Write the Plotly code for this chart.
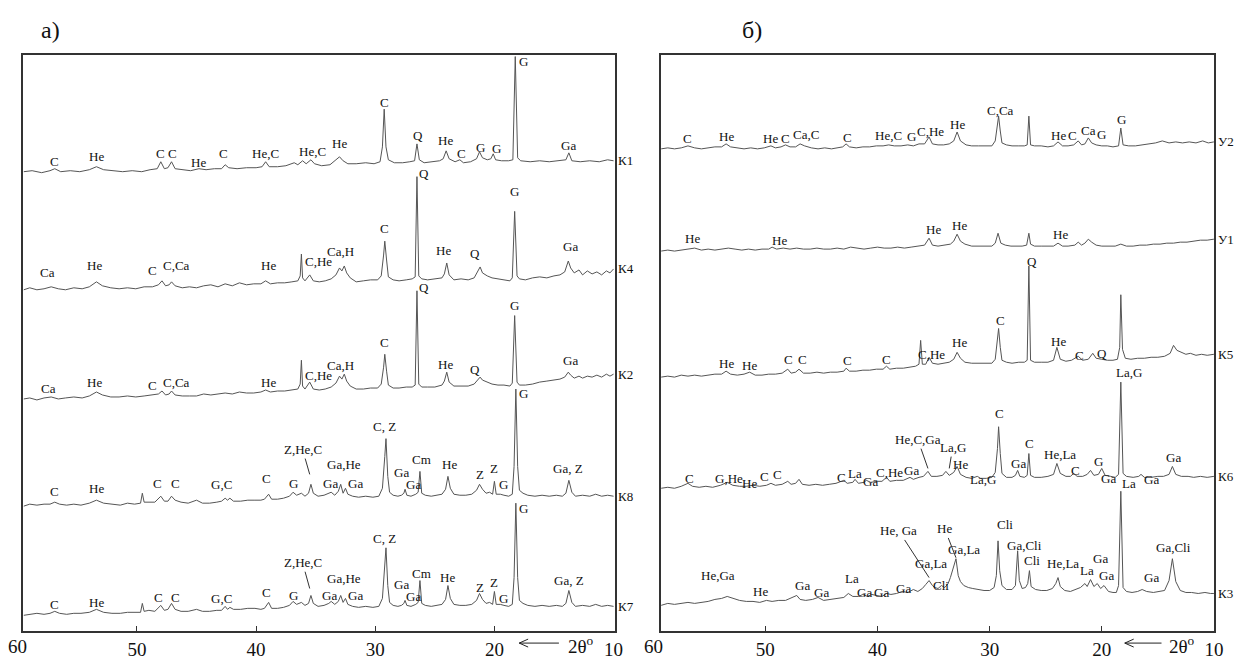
import plotly.graph_objects as go

FONT = "Liberation Serif"
W, H = 1240, 660

# ---------------- data: (2theta, intensity) ----------------
k1 = [(59.5,0),(58.8,1),(58.0,-1),(57.3,1),(56.9,3),(56.4,0),(55.6,1),(54.8,0),(54.0,2),(53.4,5),(52.8,2),(52.0,1),(51.2,0),(50.4,1),(49.6,0),(48.9,2),(48.3,3),(48.0,10),(47.7,3),(47.4,4),(47.1,10),(46.8,3),(46.2,2),(45.5,1),(44.8,3),(44.2,2),(43.5,3),(42.9,3),(42.6,7),(42.3,4),(41.6,3),(40.8,4),(40.0,4),(39.5,5),(39.2,10),(38.9,5),(38.2,5),(37.5,6),(36.8,9),(36.5,7),(36.1,11),(35.8,8),(35.4,12),(35.1,8),(34.5,6),(33.8,7),(33.3,12),(33.0,15),(32.7,11),(32.3,8),(31.6,8),(30.8,9),(30.1,8),(29.6,10),(29.4,25),(29.25,63),(29.1,25),(28.9,12),(28.4,9),(27.7,9),(27.1,10),(26.7,11),(26.5,28),(26.3,12),(25.9,9),(25.3,10),(24.6,11),(24.3,13),(24.05,21),(23.8,13),(23.3,10),(22.9,12),(22.6,9),(22.0,10),(21.5,13),(21.25,20),(21.0,14),(20.6,12),(20.3,13),(20.1,18),(19.9,12),(19.4,11),(18.8,11),(18.45,12),(18.25,116),(18.05,14),(17.8,11),(17.0,10),(16.2,11),(15.4,10),(14.6,11),(14.0,12),(13.75,19),(13.5,11),(12.8,10),(12.0,11),(11.2,10),(10.5,12),(10.0,11)]
k4 = [(59.5,0),(59.0,2),(58.4,0),(57.8,1),(57.2,3),(56.6,1),(56.0,0),(55.3,2),(54.6,1),(54.0,3),(53.4,8),(52.9,4),(52.2,2),(51.5,1),(50.8,2),(50.1,1),(49.4,3),(48.7,3),(48.2,5),(47.9,9),(47.6,4),(47.3,5),(47.1,8),(46.8,4),(46.2,2),(45.6,3),(45.0,2),(44.4,4),(43.8,5),(43.2,3),(42.6,6),(42.0,4),(41.4,7),(40.8,5),(40.2,6),(39.6,6),(39.2,9),(38.8,6),(38.2,7),(37.6,7),(37.0,8),(36.5,9),(36.3,14),(36.2,36),(36.1,12),(35.9,9),(35.5,15),(35.2,9),(34.7,8),(34.2,9),(33.7,11),(33.3,15),(33.0,22),(32.8,19),(32.6,24),(32.4,17),(32.1,12),(31.6,8),(31.0,9),(30.4,10),(29.8,10),(29.5,14),(29.3,35),(29.2,49),(29.05,30),(28.9,13),(28.5,10),(28.0,9),(27.4,10),(26.9,11),(26.65,13),(26.5,114),(26.35,14),(26.1,11),(25.6,10),(25.0,11),(24.4,12),(24.2,16),(24.0,27),(23.8,15),(23.4,10),(22.8,11),(22.2,10),(21.7,12),(21.4,18),(21.2,23),(21.0,17),(20.6,14),(20.2,12),(19.7,11),(19.2,10),(18.7,9),(18.5,12),(18.3,79),(18.1,14),(17.9,11),(17.4,10),(16.8,12),(16.2,13),(15.6,12),(15.0,14),(14.5,15),(14.1,18),(13.8,29),(13.6,22),(13.3,17),(12.9,20),(12.6,15),(12.2,19),(11.8,16),(11.4,18),(11.0,15),(10.6,19),(10.3,17),(10.0,21)]
k2 = [(59.5,0),(59.0,1),(58.4,-1),(57.8,1),(57.2,2),(56.6,0),(56.0,1),(55.3,2),(54.6,1),(54.0,3),(53.4,7),(52.9,4),(52.2,2),(51.5,2),(50.8,3),(50.1,2),(49.4,3),(48.7,4),(48.2,5),(47.9,8),(47.6,4),(47.3,5),(47.1,8),(46.8,4),(46.2,3),(45.6,3),(45.0,3),(44.4,5),(43.8,4),(43.2,5),(42.6,6),(42.0,5),(41.4,7),(40.8,6),(40.2,6),(39.6,7),(39.2,9),(38.8,7),(38.2,8),(37.6,8),(37.0,9),(36.5,10),(36.3,15),(36.2,39),(36.1,13),(35.9,10),(35.5,17),(35.2,10),(34.7,9),(34.2,10),(33.7,12),(33.3,16),(33.0,23),(32.8,20),(32.6,25),(32.4,18),(32.1,13),(31.6,10),(31.0,10),(30.4,11),(29.8,11),(29.5,15),(29.3,32),(29.2,45),(29.05,28),(28.9,14),(28.5,11),(28.0,11),(27.4,12),(26.9,12),(26.65,14),(26.5,109),(26.35,15),(26.1,12),(25.6,12),(25.0,12),(24.4,14),(24.2,18),(24.0,27),(23.8,17),(23.4,13),(22.8,13),(22.2,13),(21.7,15),(21.4,19),(21.2,22),(21.0,19),(20.6,17),(20.2,15),(19.7,14),(19.2,14),(18.7,13),(18.5,16),(18.3,84),(18.1,17),(17.9,14),(17.4,14),(16.8,15),(16.2,17),(15.6,18),(15.0,19),(14.5,20),(14.1,22),(13.8,27),(13.6,24),(13.3,21),(12.9,23),(12.6,21),(12.2,23),(11.8,22),(11.4,24),(11.0,22),(10.6,25),(10.3,23),(10.0,25)]
k8 = [(59.5,0),(59.0,2),(58.4,1),(57.8,2),(57.3,2),(56.9,4),(56.5,2),(55.9,1),(55.3,2),(54.7,1),(54.0,3),(53.4,6),(52.8,3),(52.1,2),(51.4,1),(50.8,3),(50.2,2),(49.7,3),(49.55,13),(49.4,4),(49.0,4),(48.5,4),(48.0,10),(47.7,5),(47.4,5),(47.1,10),(46.8,6),(46.3,4),(45.7,3),(45.0,6),(44.5,3),(43.9,3),(43.3,4),(42.9,5),(42.6,8),(42.4,6),(42.2,8),(41.9,5),(41.3,5),(40.7,6),(40.1,6),(39.6,6),(39.3,7),(38.95,12),(38.7,7),(38.2,7),(37.7,8),(37.2,10),(36.9,14),(36.6,11),(36.2,13),(35.9,10),(35.6,13),(35.4,22),(35.2,13),(34.8,10),(34.3,11),(33.9,13),(33.7,14),(33.4,11),(33.1,15),(32.9,22),(32.7,13),(32.5,18),(32.3,12),(31.9,10),(31.4,9),(30.8,10),(30.2,9),(29.7,10),(29.4,18),(29.2,50),(29.1,68),(28.95,30),(28.8,14),(28.5,11),(28.1,10),(27.8,11),(27.6,13),(27.5,17),(27.35,11),(27.0,10),(26.6,12),(26.4,14),(26.25,35),(26.1,13),(25.8,11),(25.3,10),(24.8,11),(24.4,12),(24.1,17),(23.9,30),(23.7,18),(23.4,12),(22.9,11),(22.4,11),(21.9,12),(21.5,16),(21.25,22),(21.0,17),(20.7,13),(20.4,14),(20.15,12),(20.0,25),(19.85,12),(19.5,12),(19.2,11),(18.8,10),(18.5,12),(18.35,40),(18.2,118),(18.05,40),(17.9,16),(17.6,13),(17.2,11),(16.6,10),(16.0,11),(15.4,10),(14.8,11),(14.3,10),(14.0,13),(13.75,26),(13.5,14),(13.2,10),(12.6,11),(12.0,10),(11.5,12),(11.0,10),(10.5,11),(10.0,10)]
k7 = [(59.5,0),(59.0,1),(58.4,2),(57.8,1),(57.3,2),(56.9,4),(56.5,2),(55.9,1),(55.3,2),(54.7,2),(54.0,3),(53.4,6),(52.8,3),(52.1,2),(51.4,2),(50.8,3),(50.2,3),(49.7,3),(49.55,12),(49.4,4),(49.0,5),(48.5,4),(48.0,10),(47.7,5),(47.4,6),(47.1,12),(46.8,6),(46.3,4),(45.7,4),(45.0,6),(44.5,4),(43.9,4),(43.3,5),(42.9,5),(42.6,9),(42.4,6),(42.2,8),(41.9,6),(41.3,6),(40.7,7),(40.1,7),(39.6,6),(39.3,7),(38.95,13),(38.7,7),(38.2,7),(37.7,8),(37.2,10),(36.9,14),(36.6,11),(36.2,13),(35.9,10),(35.6,12),(35.4,20),(35.2,12),(34.8,9),(34.3,10),(33.9,12),(33.7,14),(33.4,11),(33.1,14),(32.9,20),(32.7,13),(32.5,17),(32.3,11),(31.9,9),(31.4,8),(30.8,9),(30.2,8),(29.7,9),(29.4,17),(29.2,48),(29.1,68),(28.95,30),(28.8,13),(28.5,10),(28.1,9),(27.8,10),(27.6,12),(27.5,15),(27.35,10),(27.0,9),(26.6,11),(26.4,13),(26.25,35),(26.1,12),(25.8,10),(25.3,9),(24.8,10),(24.4,11),(24.1,16),(23.9,30),(23.7,17),(23.4,11),(22.9,10),(22.4,10),(21.9,11),(21.5,15),(21.25,22),(21.0,16),(20.7,12),(20.4,13),(20.15,11),(20.0,24),(19.85,11),(19.5,11),(19.2,10),(18.8,9),(18.5,11),(18.35,38),(18.2,113),(18.05,38),(17.9,15),(17.6,12),(17.2,10),(16.6,9),(16.0,10),(15.4,9),(14.8,10),(14.3,9),(14.0,12),(13.75,25),(13.5,13),(13.2,9),(12.6,10),(12.0,9),(11.5,11),(11.0,9),(10.5,10),(10.0,9)]

u2 = [(59.3,0),(58.7,1),(58.1,0),(57.5,1),(56.9,3),(56.3,1),(55.7,0),(55.1,1),(54.5,2),(53.9,2),(53.5,5),(53.1,2),(52.5,1),(51.9,0),(51.3,1),(50.7,0),(50.1,1),(49.5,3),(49.1,1),(48.6,2),(48.2,4),(47.8,2),(47.3,2),(46.9,5),(46.5,3),(45.9,1),(45.3,0),(44.7,1),(44.1,0),(43.5,1),(43.1,2),(42.8,5),(42.5,2),(41.9,1),(41.3,2),(40.7,2),(40.1,3),(39.5,3),(39.0,4),(38.5,3),(37.9,3),(37.3,4),(36.8,3),(36.3,5),(35.8,5),(35.4,12),(35.1,5),(34.6,4),(34.1,4),(33.6,5),(33.2,8),(32.9,17),(32.6,8),(32.1,4),(31.6,3),(31.0,3),(30.4,3),(29.8,3),(29.5,8),(29.3,25),(29.2,33),(29.05,18),(28.9,6),(28.5,4),(28.0,3),(27.4,3),(26.9,3),(26.65,4),(26.5,33),(26.35,4),(26.0,3),(25.4,3),(24.8,2),(24.3,3),(23.9,7),(23.5,3),(23.0,3),(22.5,4),(22.1,8),(21.8,4),(21.5,5),(21.2,11),(20.9,6),(20.5,4),(20.0,3),(19.5,3),(19.0,2),(18.5,3),(18.3,21),(18.1,4),(17.6,3),(17.0,3),(16.4,4),(15.8,5),(15.2,6),(14.6,8),(14.0,6),(13.4,7),(12.8,6),(12.2,7),(11.6,6),(11.0,8),(10.5,6),(10.0,7)]
u1 = [(59.3,0),(58.7,1),(58.1,0),(57.5,1),(56.9,2),(56.3,3),(55.7,1),(55.1,2),(54.5,1),(53.9,2),(53.3,3),(52.7,2),(52.1,1),(51.5,2),(50.9,1),(50.3,2),(49.7,2),(49.4,4),(49.0,2),(48.4,3),(47.8,2),(47.2,3),(46.6,2),(46.0,2),(45.4,3),(44.8,2),(44.2,2),(43.6,3),(43.0,2),(42.4,4),(41.8,3),(41.2,2),(40.6,3),(40.0,4),(39.4,3),(38.8,3),(38.2,4),(37.6,3),(37.0,4),(36.4,5),(35.8,6),(35.4,13),(35.1,6),(34.6,5),(34.0,6),(33.5,7),(33.2,10),(32.9,17),(32.6,10),(32.2,7),(31.6,5),(31.0,5),(30.4,5),(29.8,5),(29.5,8),(29.25,18),(29.0,8),(28.6,6),(28.1,5),(27.6,5),(27.1,5),(26.7,6),(26.5,18),(26.35,7),(26.0,5),(25.4,5),(24.8,5),(24.3,5),(23.9,8),(23.5,5),(23.0,5),(22.4,6),(22.1,9),(21.8,6),(21.5,8),(21.2,12),(20.9,9),(20.5,6),(20.0,5),(19.4,5),(18.8,5),(18.3,7),(17.8,5),(17.2,5),(16.6,6),(16.0,6),(15.4,7),(14.8,7),(14.2,8),(13.6,8),(13.0,9),(12.4,9),(11.8,10),(11.2,11),(10.6,11),(10.0,12)]
k5 = [(59.3,0),(58.7,1),(58.1,0),(57.5,2),(56.9,1),(56.3,2),(55.7,1),(55.1,2),(54.5,3),(53.9,3),(53.5,6),(53.1,3),(52.5,2),(51.9,3),(51.4,5),(50.9,2),(50.3,2),(49.7,3),(49.1,3),(48.5,4),(48.0,8),(47.7,4),(47.3,5),(47.0,8),(46.6,4),(46.0,4),(45.4,5),(44.8,4),(44.2,5),(43.6,5),(43.0,6),(42.8,9),(42.5,6),(41.9,6),(41.3,7),(40.7,7),(40.1,8),(39.5,8),(39.2,11),(38.9,8),(38.3,9),(37.7,9),(37.1,10),(36.6,11),(36.3,13),(36.15,37),(36.0,13),(35.7,13),(35.4,20),(35.1,14),(34.6,13),(34.1,14),(33.6,15),(33.2,18),(32.9,25),(32.6,19),(32.2,15),(31.6,14),(31.0,14),(30.4,14),(29.8,14),(29.5,18),(29.3,38),(29.2,49),(29.05,30),(28.9,17),(28.5,15),(28.0,14),(27.4,15),(26.9,15),(26.65,17),(26.5,112),(26.35,17),(26.0,15),(25.4,15),(24.8,15),(24.3,17),(24.0,30),(23.7,18),(23.2,16),(22.7,17),(22.1,21),(21.7,17),(21.2,18),(20.8,24),(20.5,19),(20.0,18),(19.5,17),(19.0,17),(18.6,18),(18.4,30),(18.3,83),(18.15,28),(17.9,19),(17.4,18),(16.8,19),(16.2,19),(15.6,20),(15.0,20),(14.4,21),(13.9,24),(13.6,32),(13.3,27),(12.9,25),(12.5,23),(12.1,24),(11.6,22),(11.1,23),(10.6,22),(10.0,23)]
k6 = [(59.3,0),(58.7,1),(58.1,0),(57.5,2),(56.9,5),(56.5,2),(55.9,1),(55.3,2),(54.7,1),(54.0,3),(53.4,6),(52.9,3),(52.3,2),(51.7,2),(51.1,3),(50.5,2),(49.9,3),(49.5,5),(49.1,3),(48.5,4),(48.0,7),(47.7,4),(47.3,5),(47.0,9),(46.7,4),(46.1,3),(45.5,4),(44.9,3),(44.3,4),(43.7,5),(43.0,8),(42.7,5),(42.2,6),(42.0,9),(41.7,5),(41.2,6),(41.0,8),(40.6,6),(40.0,7),(39.6,7),(39.2,11),(38.9,7),(38.3,8),(37.7,8),(37.1,11),(36.8,9),(36.3,11),(35.9,12),(35.5,17),(35.2,12),(34.7,12),(34.2,13),(33.9,17),(33.6,13),(33.2,16),(32.9,22),(32.6,14),(32.1,11),(31.6,10),(31.1,12),(30.8,10),(30.3,10),(29.8,11),(29.5,16),(29.3,40),(29.2,62),(29.05,35),(28.9,15),(28.5,11),(28.0,11),(27.7,13),(27.5,18),(27.3,12),(26.9,11),(26.65,13),(26.5,35),(26.35,13),(26.0,11),(25.4,11),(24.8,12),(24.3,14),(24.0,25),(23.7,15),(23.2,12),(22.8,12),(22.5,15),(22.2,12),(21.7,12),(21.3,14),(21.0,18),(20.7,13),(20.3,14),(20.0,20),(19.7,13),(19.2,12),(18.8,11),(18.5,14),(18.3,107),(18.1,15),(17.8,12),(17.2,11),(16.7,12),(16.5,14),(16.2,11),(15.6,11),(15.0,12),(14.5,12),(14.0,14),(13.7,22),(13.4,14),(12.9,12),(12.3,12),(11.8,11),(11.2,12),(10.6,11),(10.0,12)]
k3 = [(59.3,0),(58.7,2),(58.1,1),(57.5,2),(56.9,3),(56.3,2),(55.7,3),(55.1,4),(54.5,6),(53.9,7),(53.4,9),(52.9,7),(52.3,5),(51.7,4),(51.1,4),(50.5,3),(49.9,5),(49.4,4),(48.8,5),(48.2,5),(47.8,7),(47.2,10),(46.9,6),(46.4,5),(45.8,6),(45.3,8),(44.8,5),(44.2,6),(43.6,7),(43.0,8),(42.6,12),(42.2,9),(41.7,9),(41.3,11),(40.9,9),(40.5,11),(40.1,10),(39.6,9),(39.2,12),(38.8,11),(38.3,12),(37.8,14),(37.3,13),(36.8,16),(36.4,14),(36.0,17),(35.7,21),(35.4,25),(35.1,20),(34.9,18),(34.6,17),(34.3,20),(34.0,18),(33.7,22),(33.5,28),(33.2,40),(33.0,47),(32.8,30),(32.6,24),(32.3,20),(31.9,18),(31.5,17),(31.0,16),(30.5,15),(30.0,15),(29.6,18),(29.4,30),(29.25,65),(29.1,35),(28.9,20),(28.5,16),(28.0,16),(27.7,20),(27.5,55),(27.35,25),(27.1,17),(26.8,18),(26.6,22),(26.45,35),(26.3,19),(25.9,16),(25.4,15),(24.9,15),(24.4,17),(24.1,22),(23.9,28),(23.7,19),(23.3,15),(22.8,14),(22.3,16),(21.9,18),(21.5,22),(21.3,19),(21.0,26),(20.7,19),(20.4,22),(20.1,17),(19.8,20),(19.4,14),(19.0,13),(18.7,13),(18.5,20),(18.3,115),(18.1,18),(17.8,14),(17.3,13),(16.8,14),(16.4,16),(16.0,14),(15.4,13),(14.9,14),(14.4,15),(14.0,25),(13.7,47),(13.4,24),(13.0,15),(12.5,13),(12.0,13),(11.4,12),(10.8,13),(10.3,12),(10.0,12)]

# phase labels: (text, 2theta, height above the trace's zero level)
k1_labels = [("C",56.9,10),("He",53.4,15),("C",48.0,18),("C",47.0,18),("He",44.8,9),("C",42.7,18),("He,C",39.2,18),("He,C",35.25,20),("He",33.0,28),("C",29.2,70),("Q",26.4,36),("He",24.1,31),("C",22.8,18),("G",21.2,24),("G",19.8,23),("G",17.6,111),("Ga",13.75,26)]
k4_labels = [("Ca",57.5,17),("He",53.6,24),("C",48.7,19),("C,Ca",46.7,24),("He",39.0,24),("C,He",34.8,29),("Ca,H",32.9,39),("C",29.2,62),("Q",25.9,117),("He",24.25,40),("Q",21.6,37),("G",18.3,99),("Ga",13.6,44)]
k2_labels = [("Ca",57.4,11),("He",53.6,17),("C",48.7,14),("C,Ca",46.7,17),("He",39.0,17),("C,He",34.8,24),("Ca,H",32.9,34),("C",29.2,57),("Q",25.9,112),("He",24.1,35),("Q",21.6,30),("G",18.3,94),("Ga",13.6,39)]
k8_labels = [("C",56.9,15),("He",53.4,18),("C",48.25,23),("C",46.75,23),("G,C",42.9,22),("C",39.1,28),("G",36.9,23),("Ga,He",32.6,42),("Ga",33.75,23),("Ga",31.7,23),("C, Z",29.2,80),("Ga",27.8,34),("Ga",26.8,22),("Cm",26.1,47),("He",23.8,42),("Z",21.25,32),("Z",20.0,38),("G",19.2,22),("G",17.6,113),("Ga, Z",13.8,38)]
k7_labels = [("C",56.9,11),("He",53.4,13),("C",48.2,18),("C",46.75,18),("G,C",42.9,17),("C",39.1,23),("G",36.9,20),("Ga,He",32.6,37),("Ga",33.8,20),("Ga",31.7,20),("C, Z",29.2,77),("Ga",27.8,31),("Ga",26.8,19),("Cm",26.1,42),("He",23.9,38),("Z",21.25,28),("Z",20.0,33),("G",19.25,17),("G",17.6,108),("Ga, Z",13.75,35)]
u2_labels = [("C",56.9,10),("He",53.5,12),("He",49.5,10),("C",48.2,10),("Ca,C",46.4,14),("C",42.7,11),("He,C",39.0,13),("G",37.0,12),("C,He",35.3,18),("He",32.9,25),("C,Ca",29.0,39),("He",23.9,13),("C",22.65,13),("Ca",21.15,19),("G",20.0,14),("G",18.25,30)]
u1_labels = [("He",56.5,13),("He",48.7,11),("He",35.0,22),("He",32.65,26),("He",23.7,17)]
k5_labels = [("He",53.5,14),("He",51.4,12),("C",47.9,18),("C",46.7,18),("C",42.7,17),("C",39.2,18),("C,He",35.2,23),("He",32.7,35),("C",29.0,57),("Q",26.2,117),("He",23.9,36),("C",22.0,22),("Q",20.0,24)]
k6_labels = [("C",56.8,10),("G,He",53.2,10),("He",51.4,5),("C",50.1,12),("C",48.9,14),("C",43.2,11),("La",42.0,15),("Ga",40.6,7),("C,He",38.9,16),("Ga",37.0,18),("He",32.6,24),("La,G",30.6,9),("C",29.1,75),("Ga",27.4,25),("C",26.4,45),("He,La",23.7,34),("C",22.3,18),("G",20.3,27),("Ga",19.4,10),("Ga",15.6,9),("Ga",13.6,31),("La,G",17.6,117)]
k3_labels = [("He,Ga",54.2,30),("He",50.4,14),("Ga",46.7,20),("Ga",45.0,13),("La",42.3,27),("Ga",41.2,13),("Ga",39.6,13),("Ga",37.7,17),("Ga,La",35.2,42),("Cli",34.3,20),("Ga,La",32.3,56),("Cli",28.6,82),("Ga,Cli",26.9,60),("Cli",26.2,45),("He,La",23.5,42),("La",21.3,35),("Ga",20.1,47),("Ga",19.6,30),("La",17.6,123),("Ga",15.6,28),("Ga,Cli",13.6,58)]

# labels joined to their peak by a leader line: (text, 2theta_text, h_text, 2theta_peak, h_peak)
k8_leaders = [("Z,He,C",36.1,57,35.5,32)]
k7_leaders = [("Z,He,C",36.1,53,35.5,27)]
k6_leaders = [("He,C,Ga",36.4,49,35.5,20),("La,G",33.3,41,33.6,20)]
k3_leaders = [("He, Ga",38.1,75,35.4,28),("He",34.0,77,33.0,48)]

sample_names_a = ["К1", "К4", "К2", "К8", "К7"]
sample_names_b = ["У2", "У1", "К5", "К6", "К3"]
tick_values = [60, 50, 40, 30, 20, 10]

# ---------------- layout geometry (pixels) ----------------
TOP_PX, BOTTOM_PX = 55, 636
zero_a = [173, 292, 402, 510, 620]
zero_b = [150, 253, 380, 492, 610]
panels = [
    dict(left=23, right=619, xr=[59.58, 9.92], xa="x", ya="y",
         series=[k1, k4, k2, k8, k7], labels=[k1_labels, k4_labels, k2_labels, k8_labels, k7_labels],
         leaders=[[], [], [], k8_leaders, k7_leaders], names=sample_names_a, zero=zero_a,
         arrow=(523, 563), arrow_text=585, tag="а)", tag_x=51),
    dict(left=666, right=1223, xr=[59.29, 9.98], xa="x2", ya="y2",
         series=[u2, u1, k5, k6, k3], labels=[u2_labels, u1_labels, k5_labels, k6_labels, k3_labels],
         leaders=[[], [], [], k6_leaders, k3_leaders], names=sample_names_b, zero=zero_b,
         arrow=(1133, 1170), arrow_text=1191, tag="б)", tag_x=758),
]

def ydata(px):
    return H - px

fig = go.Figure()
annotations = []
shapes = []
lab_font = dict(family=FONT, size=13, color="#111")

for p in panels:
    xa, ya = p["xa"], p["ya"]
    for s, labs, leads, name, z in zip(p["series"], p["labels"], p["leaders"], p["names"], p["zero"]):
        base = ydata(z)
        fig.add_trace(go.Scatter(
            x=[t for t, _ in s], y=[base + v for _, v in s], mode="lines",
            line=dict(color="#555", width=1), xaxis=xa, yaxis=ya,
            showlegend=False, hoverinfo="skip"))
        for txt, t, h in labs:
            annotations.append(dict(x=t, y=base + h, xref=xa, yref=ya, text=txt, showarrow=False,
                                    font=lab_font, xanchor="center", yanchor="middle"))
        for txt, t, h, tp, hp in leads:
            annotations.append(dict(x=tp, y=base + hp, ax=t, ay=base + h, xref=xa, yref=ya,
                                    axref=xa, ayref=ya, text=txt, showarrow=True, arrowhead=0,
                                    arrowwidth=1, arrowcolor="#333", standoff=0, font=lab_font))
        annotations.append(dict(x=(p["right"] + 2) / W, y=base + s[-1][1], xref="paper", yref=ya,
                                text=name, showarrow=False, xanchor="left", yanchor="middle",
                                font=dict(family=FONT, size=13, color="#111")))
    x60 = p["left"] + (60 - p["xr"][0]) / (p["xr"][1] - p["xr"][0]) * (p["right"] - p["left"])
    annotations.append(dict(x=x60 / W, y=1 - 651 / H, xref="paper", yref="paper", text="60",
                            showarrow=False, xanchor="center", yanchor="middle",
                            font=dict(family=FONT, size=19, color="#111")))
    x0, x1 = p["arrow"]
    yy = 1 - 648 / H
    shapes.append(dict(type="line", xref="paper", yref="paper", x0=x0 / W, x1=x1 / W, y0=yy, y1=yy,
                       line=dict(color="#222", width=1)))
    shapes.append(dict(type="path", xref="paper", yref="paper",
                       path=f"M {(x0+9)/W},{yy+4/H} L {x0/W},{yy} L {(x0+9)/W},{yy-4/H}",
                       line=dict(color="#222", width=1)))
    annotations.append(dict(x=p["arrow_text"] / W, y=1 - 650 / H, xref="paper", yref="paper",
                            text="2θ<sup>o</sup>", showarrow=False, xanchor="center", yanchor="middle",
                            font=dict(family=FONT, size=19, color="#111")))
    annotations.append(dict(x=p["tag_x"] / W, y=1 - 30 / H, xref="paper", yref="paper", text=p["tag"],
                            showarrow=False, xanchor="center", yanchor="middle",
                            font=dict(family=FONT, size=24, color="#111")))

ydom = [1 - BOTTOM_PX / H, 1 - TOP_PX / H]
yrange = [ydata(BOTTOM_PX), ydata(TOP_PX)]
axis_common = dict(showgrid=False, zeroline=False, showline=True, mirror=True, linecolor="#333", linewidth=1.5)
xtick = dict(tickvals=tick_values[1:], ticks="inside", ticklen=5, tickcolor="#333",
             tickfont=dict(family=FONT, size=19, color="#111"))
fig.update_layout(
    width=W, height=H, margin=dict(l=0, r=0, t=0, b=0),
    paper_bgcolor="white", plot_bgcolor="white",
    xaxis=dict(domain=[panels[0]["left"] / W, panels[0]["right"] / W], range=panels[0]["xr"],
               anchor="y", **xtick, **axis_common),
    yaxis=dict(domain=ydom, range=yrange, showticklabels=False, ticks="", anchor="x", **axis_common),
    xaxis2=dict(domain=[panels[1]["left"] / W, panels[1]["right"] / W], range=panels[1]["xr"],
                anchor="y2", **xtick, **axis_common),
    yaxis2=dict(domain=ydom, range=yrange, showticklabels=False, ticks="", anchor="x2", **axis_common),
    annotations=annotations, shapes=shapes,
)
fig.write_html("out.html", config={"displayModeBar": False},
               post_script="document.body.style.margin='0px';document.body.style.overflow='hidden';")
